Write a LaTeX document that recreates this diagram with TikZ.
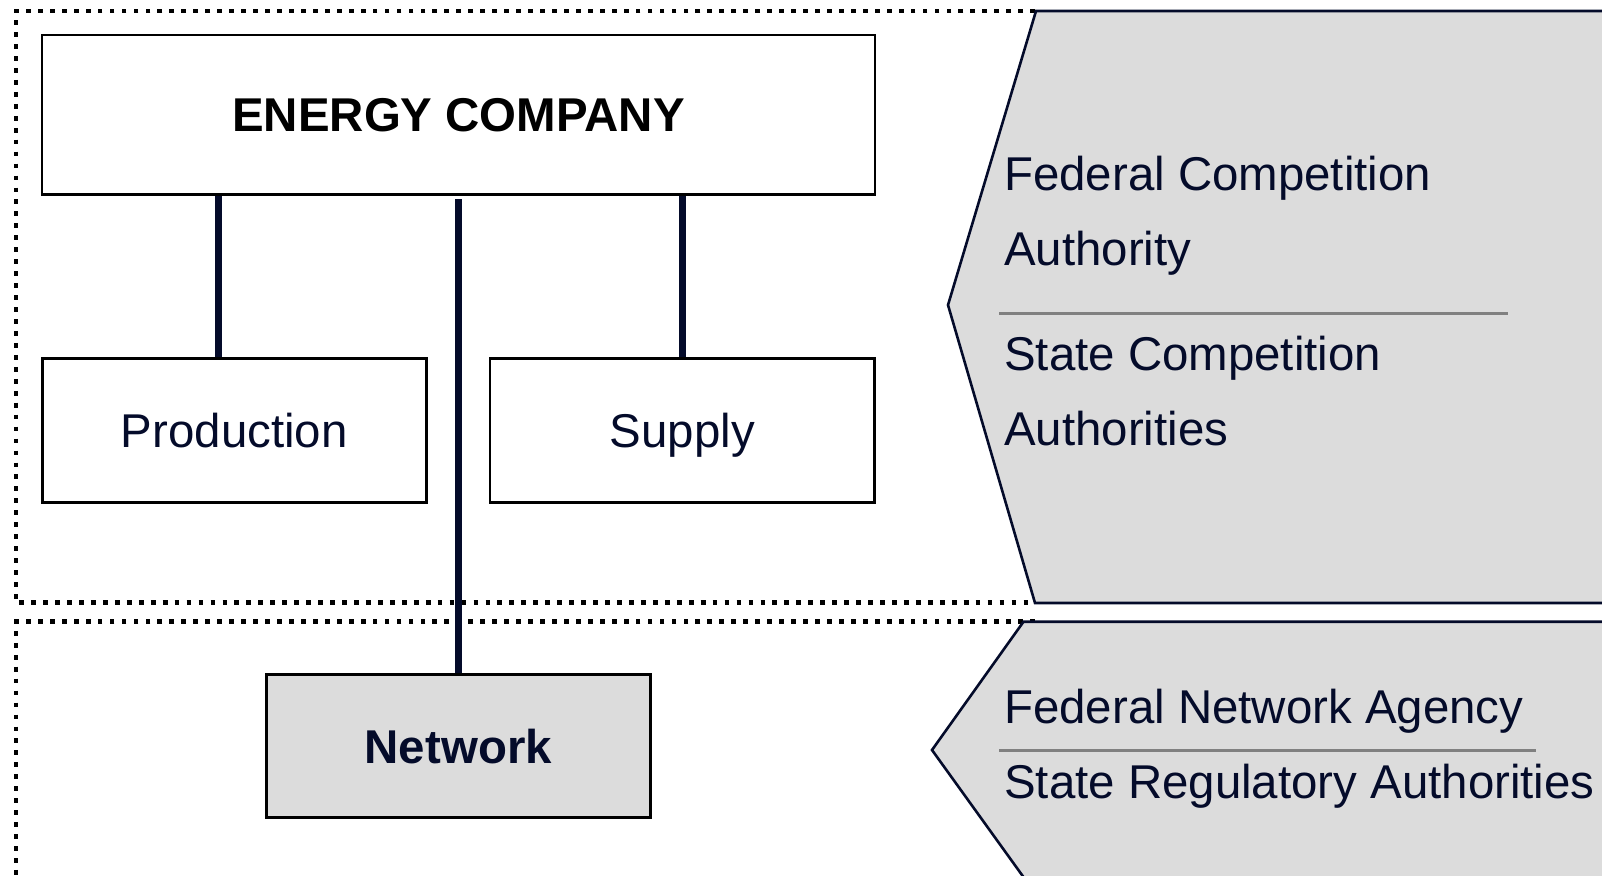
\documentclass[tikz,border=0pt]{standalone}
\usepackage{fontspec}
\setmainfont{Liberation Sans}
\definecolor{navy}{RGB}{4,11,42}
\definecolor{shade}{RGB}{220,220,220}
\definecolor{sepgray}{RGB}{128,128,128}
\begin{document}
\begin{tikzpicture}[x=1bp,y=-1bp,
  box/.style={draw=black,line width=2.8pt,inner sep=0pt,text height=34pt,text depth=0pt,
    font=\fontsize{47.6}{57}\selectfont,text=navy},
  conn/.style={draw=navy,line width=7.3pt},
  dotline/.style={draw=black,line width=4.8pt,dash pattern=on 4.8pt off 7.2pt},
  chevron/.style={draw=navy,line width=2.6pt,fill=shade,line join=miter},
  sepline/.style={draw=sepgray,line width=3pt},
  lab/.style={anchor=base west,inner sep=0pt,text=navy,font=\fontsize{47.6}{57}\selectfont}]
\useasboundingbox (0,0) rectangle (1602,875);
% dotted frames
\draw[dotline] (1035,11) -- (16,11) -- (16,602.7) -- (1035,602.7);
\draw[dotline] (1035,621.7) -- (16,621.7) -- (16,885);
% boxes
\node[box,minimum width=833bp,minimum height=159.5bp,text=black,font=\fontsize{47.6}{57}\selectfont\bfseries] (energy) at (458.5,114.7) {ENERGY COMPANY};
\node[box,minimum width=384bp,minimum height=143.5bp] (production) at (234.3,430.45) {Production};
\node[box,minimum width=384.7bp,minimum height=143.5bp] (supply) at (682.35,430.45) {Supply};
\node[box,fill=shade,minimum width=384bp,minimum height=143.1bp,font=\fontsize{47.6}{57}\selectfont\bfseries] (network) at (458.3,746.25) {Network};
% connectors
\coordinate (pl) at (218.7,0);
\coordinate (pm) at (458.5,0);
\coordinate (pr) at (682.5,0);
\draw[conn] (energy.south -| pl) -- (production.north -| pl);
\draw[conn] (energy.south -| pr) -- (supply.north -| pr);
\draw[conn,shorten <=3.5pt] (energy.south -| pm) -- (network.north -| pm);
% regulator shapes
\draw[chevron] (1036,11) -- (948,305) -- (1035,603) -- (1620,603) -- (1620,11) -- cycle;
\draw[chevron] (1023.5,621.7) -- (932,750) -- (1024.5,878.5) -- (1620,878.5) -- (1620,621.7) -- cycle;
\draw[sepline] (999,313.3) -- (1508,313.3);
\draw[sepline] (999,750.7) -- (1536,750.7);
% labels
\node[lab] (fca1) at (1004,190) {Federal Competition};
\node[lab] (fca2) at (1004,265) {Authority};
\node[lab] (sca1) at (1004,370) {State Competition};
\node[lab] (sca2) at (1004,445) {Authorities};
\node[lab] (fna) at (1004,723.3) {Federal Network Agency};
\node[lab] (sra) at (1004,798.3) {State Regulatory Authorities};
\end{tikzpicture}
\end{document}
